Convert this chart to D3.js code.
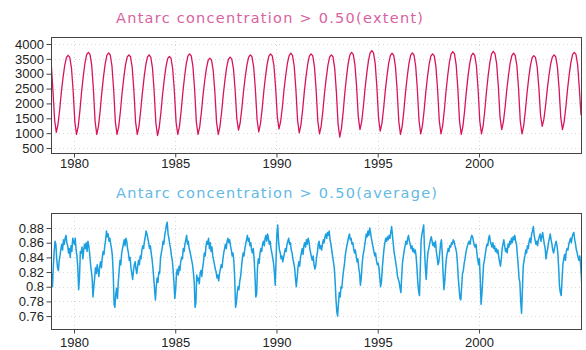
<!DOCTYPE html>
<html>
<head>
<meta charset="utf-8">
<script src="https://cdn.jsdelivr.net/npm/d3@7"></script>
<style>
  body { margin: 0; background: #fff; }
  .tick text { font-family: "Liberation Sans", Arial, sans-serif; font-size: 13px; fill: #222; }
  .tick line { stroke: #444; }
  .title { font-family: "DejaVu Sans", sans-serif; font-size: 14.5px; }
</style>
</head>
<body>
<svg id="chart" width="586" height="350"></svg>
<script>
// ---- data ----
const yearTicks = [1980, 1985, 1990, 1995, 2000];
const extentTicks = [500, 1000, 1500, 2000, 2500, 3000, 3500, 4000];
const averageTicks = [0.76, 0.78, 0.8, 0.82, 0.84, 0.86, 0.88];

// monthly values, first one is Nov 1978
const extentStart = 1978 + 10 / 12;
const extentMonthly = [
  3350, 2450,
  1450, 1030, 1290, 1780, 2380, 2870, 3280, 3540, 3620, 3550, 3190, 2420, // 1979
  1380, 955, 1230, 1760, 2390, 2920, 3360, 3640, 3720, 3650, 3280, 2480,  // 1980
  1400, 955, 1230, 1750, 2380, 2900, 3340, 3620, 3700, 3630, 3260, 2470,  // 1981
  1390, 955, 1220, 1730, 2350, 2860, 3290, 3560, 3635, 3570, 3210, 2430,  // 1982
  1380, 955, 1230, 1740, 2340, 2850, 3280, 3560, 3635, 3560, 3200, 2410,  // 1983
  1350, 920, 1190, 1690, 2300, 2810, 3230, 3510, 3580, 3520, 3160, 2400,  // 1984
  1370, 955, 1230, 1740, 2370, 2880, 3320, 3590, 3670, 3600, 3240, 2450,  // 1985
  1390, 955, 1210, 1700, 2290, 2780, 3190, 3450, 3525, 3460, 3110, 2370,  // 1986
  1370, 955, 1220, 1710, 2310, 2800, 3220, 3480, 3560, 3500, 3170, 2450,  // 1987
  1490, 1100, 1350, 1840, 2420, 2900, 3300, 3560, 3635, 3570, 3220, 2470, // 1988
  1460, 1045, 1310, 1810, 2410, 2910, 3330, 3590, 3670, 3600, 3270, 2530, // 1989
  1550, 1140, 1400, 1880, 2470, 2950, 3360, 3610, 3690, 3620, 3260, 2480, // 1990
  1440, 1010, 1280, 1780, 2390, 2900, 3320, 3590, 3670, 3600, 3240, 2460, // 1991
  1410, 975, 1240, 1750, 2360, 2860, 3290, 3560, 3635, 3570, 3190, 2390,  // 1992
  1310, 865, 1150, 1690, 2350, 2890, 3350, 3630, 3720, 3650, 3300, 2550,  // 1993
  1540, 1120, 1390, 1890, 2500, 3010, 3430, 3700, 3780, 3700, 3350, 2560, // 1994
  1500, 1065, 1330, 1830, 2430, 2930, 3350, 3610, 3690, 3620, 3250, 2460, // 1995
  1390, 955, 1230, 1750, 2380, 2900, 3340, 3620, 3700, 3630, 3260, 2470,  // 1996
  1410, 975, 1250, 1760, 2380, 2890, 3320, 3590, 3670, 3600, 3240, 2460,  // 1997
  1410, 975, 1250, 1780, 2420, 2940, 3390, 3660, 3745, 3670, 3300, 2490,  // 1998
  1400, 955, 1230, 1750, 2380, 2900, 3330, 3610, 3690, 3620, 3260, 2470,  // 1999
  1410, 975, 1250, 1780, 2420, 2950, 3390, 3670, 3755, 3680, 3330, 2570,  // 2000
  1540, 1120, 1380, 1870, 2460, 2940, 3360, 3610, 3690, 3620, 3260, 2470, // 2001
  1410, 975, 1240, 1740, 2350, 2850, 3270, 3530, 3610, 3550, 3230, 2540,  // 2002
  1610, 1230, 1470, 1930, 2480, 2940, 3320, 3560, 3635, 3570, 3230, 2500, // 2003
  1520, 1120, 1380, 1870, 2470, 2970, 3380, 3640, 3720, 3650, 3300, 2500, // 2004
  1600
];

// half-monthly values, first one is early Nov 1978
const averageStart = 1978 + 10 / 12;
const averageHalfMonthly = [
  0.835, 0.812, 0.800, 0.828,
  0.848, 0.862, 0.858, 0.838, 0.826, 0.822, 0.836, 0.843, 0.852, 0.858, 0.850, 0.864, 0.858, 0.866, 0.870, 0.860, 0.856, 0.846, 0.852, 0.840, 0.856, 0.848, 0.866, 0.862, // 1979
  0.858, 0.866, 0.850, 0.842, 0.826, 0.796, 0.812, 0.848, 0.846, 0.854, 0.838, 0.850, 0.858, 0.852, 0.860, 0.848, 0.862, 0.856, 0.846, 0.832, 0.822, 0.812, 0.786, 0.800, // 1980
  0.812, 0.826, 0.818, 0.830, 0.822, 0.814, 0.828, 0.834, 0.826, 0.840, 0.848, 0.844, 0.856, 0.864, 0.876, 0.868, 0.872, 0.862, 0.866, 0.858, 0.852, 0.842, 0.818, 0.776, // 1981
  0.772, 0.790, 0.798, 0.784, 0.806, 0.822, 0.836, 0.830, 0.846, 0.852, 0.858, 0.864, 0.856, 0.866, 0.862, 0.852, 0.846, 0.836, 0.840, 0.826, 0.818, 0.810, 0.822, 0.830, // 1982
  0.834, 0.824, 0.818, 0.828, 0.836, 0.830, 0.842, 0.838, 0.850, 0.856, 0.852, 0.862, 0.868, 0.876, 0.872, 0.866, 0.860, 0.852, 0.856, 0.846, 0.838, 0.826, 0.812, 0.796, // 1983
  0.782, 0.800, 0.812, 0.806, 0.820, 0.818, 0.838, 0.846, 0.852, 0.862, 0.858, 0.870, 0.876, 0.884, 0.888, 0.872, 0.866, 0.858, 0.852, 0.842, 0.836, 0.822, 0.806, 0.784, // 1984
  0.796, 0.818, 0.824, 0.816, 0.828, 0.822, 0.834, 0.840, 0.838, 0.852, 0.848, 0.858, 0.864, 0.870, 0.858, 0.862, 0.852, 0.848, 0.842, 0.836, 0.830, 0.820, 0.806, 0.772, // 1985
  0.778, 0.816, 0.808, 0.812, 0.804, 0.818, 0.822, 0.814, 0.826, 0.834, 0.846, 0.842, 0.856, 0.862, 0.858, 0.866, 0.852, 0.860, 0.848, 0.854, 0.842, 0.836, 0.830, 0.824, // 1986
  0.820, 0.812, 0.816, 0.808, 0.818, 0.824, 0.830, 0.826, 0.838, 0.846, 0.852, 0.858, 0.852, 0.862, 0.866, 0.860, 0.864, 0.856, 0.850, 0.842, 0.846, 0.834, 0.812, 0.772, // 1987
  0.778, 0.792, 0.800, 0.796, 0.808, 0.814, 0.826, 0.838, 0.846, 0.842, 0.852, 0.858, 0.864, 0.870, 0.862, 0.866, 0.856, 0.860, 0.850, 0.846, 0.852, 0.838, 0.816, 0.786, // 1988
  0.790, 0.826, 0.838, 0.832, 0.846, 0.852, 0.848, 0.858, 0.862, 0.856, 0.866, 0.870, 0.862, 0.872, 0.866, 0.858, 0.862, 0.852, 0.846, 0.840, 0.832, 0.820, 0.802, 0.836, // 1989
  0.872, 0.884, 0.862, 0.850, 0.846, 0.838, 0.842, 0.834, 0.840, 0.846, 0.852, 0.848, 0.858, 0.862, 0.866, 0.858, 0.860, 0.850, 0.846, 0.838, 0.832, 0.826, 0.812, 0.800, // 1990
  0.812, 0.826, 0.834, 0.828, 0.840, 0.846, 0.852, 0.844, 0.856, 0.860, 0.854, 0.864, 0.858, 0.866, 0.862, 0.852, 0.846, 0.840, 0.836, 0.842, 0.830, 0.824, 0.828, 0.840, // 1991
  0.846, 0.858, 0.862, 0.852, 0.856, 0.850, 0.858, 0.864, 0.860, 0.868, 0.872, 0.866, 0.874, 0.870, 0.876, 0.864, 0.858, 0.850, 0.842, 0.834, 0.826, 0.808, 0.784, 0.766, // 1992
  0.760, 0.778, 0.792, 0.786, 0.800, 0.798, 0.812, 0.822, 0.830, 0.842, 0.850, 0.856, 0.862, 0.868, 0.872, 0.864, 0.866, 0.858, 0.860, 0.852, 0.846, 0.850, 0.842, 0.834, // 1993
  0.838, 0.826, 0.818, 0.802, 0.812, 0.830, 0.842, 0.848, 0.856, 0.864, 0.872, 0.868, 0.876, 0.870, 0.880, 0.874, 0.866, 0.860, 0.854, 0.848, 0.842, 0.846, 0.836, 0.830, // 1994
  0.832, 0.826, 0.812, 0.800, 0.808, 0.826, 0.840, 0.852, 0.860, 0.866, 0.862, 0.868, 0.864, 0.870, 0.866, 0.874, 0.882, 0.870, 0.858, 0.846, 0.840, 0.832, 0.824, 0.814, // 1995
  0.810, 0.806, 0.798, 0.792, 0.816, 0.834, 0.842, 0.850, 0.856, 0.862, 0.858, 0.866, 0.870, 0.862, 0.858, 0.852, 0.856, 0.848, 0.852, 0.846, 0.850, 0.842, 0.826, 0.806, // 1996
  0.794, 0.788, 0.826, 0.864, 0.872, 0.878, 0.884, 0.850, 0.826, 0.810, 0.832, 0.846, 0.852, 0.858, 0.864, 0.868, 0.862, 0.856, 0.860, 0.854, 0.862, 0.848, 0.840, 0.830, // 1997
  0.834, 0.846, 0.858, 0.864, 0.846, 0.818, 0.796, 0.808, 0.826, 0.840, 0.846, 0.852, 0.848, 0.856, 0.854, 0.860, 0.858, 0.864, 0.862, 0.856, 0.852, 0.846, 0.832, 0.812, // 1998
  0.798, 0.784, 0.782, 0.800, 0.818, 0.822, 0.832, 0.838, 0.846, 0.852, 0.856, 0.860, 0.862, 0.858, 0.866, 0.870, 0.868, 0.862, 0.856, 0.854, 0.858, 0.846, 0.838, 0.830, // 1999
  0.838, 0.812, 0.776, 0.790, 0.810, 0.830, 0.836, 0.844, 0.852, 0.858, 0.856, 0.866, 0.870, 0.862, 0.858, 0.854, 0.860, 0.852, 0.856, 0.848, 0.852, 0.846, 0.850, 0.840, // 2000
  0.834, 0.828, 0.838, 0.852, 0.858, 0.864, 0.856, 0.848, 0.852, 0.846, 0.858, 0.854, 0.862, 0.858, 0.866, 0.860, 0.868, 0.864, 0.870, 0.862, 0.858, 0.844, 0.830, 0.812, // 2001
  0.806, 0.780, 0.764, 0.796, 0.828, 0.836, 0.842, 0.850, 0.846, 0.856, 0.852, 0.862, 0.866, 0.860, 0.872, 0.876, 0.882, 0.870, 0.864, 0.858, 0.862, 0.856, 0.864, 0.868, // 2002
  0.872, 0.862, 0.868, 0.874, 0.866, 0.858, 0.852, 0.838, 0.846, 0.852, 0.860, 0.866, 0.872, 0.864, 0.858, 0.850, 0.846, 0.852, 0.858, 0.862, 0.856, 0.846, 0.826, 0.800, // 2003
  0.792, 0.788, 0.810, 0.830, 0.838, 0.844, 0.836, 0.848, 0.852, 0.850, 0.858, 0.862, 0.866, 0.860, 0.868, 0.872, 0.874, 0.864, 0.858, 0.850, 0.846, 0.840, 0.836, 0.842, // 2004
  0.830, 0.812, 0.790
];

// ---- layout ----
const left = 51, right = 582;

const svg = d3.select("#chart");

const x = d3.scaleLinear()
  .domain([1978.864, 2005.09])
  .range([left, right]);

function drawPanel(p) {
  var y = d3.scaleLinear().domain(p.yDomain).range([p.bottom, p.top]);
  var g = svg.append("g");

  g.append("clipPath").attr("id", p.id + "-clip")
    .append("rect")
    .attr("x", left).attr("y", p.top)
    .attr("width", right - left).attr("height", p.bottom - p.top);

  // dotted grid
  g.selectAll(".hgrid").data(p.yTicks).enter().append("line")
    .attr("x1", left).attr("x2", right)
    .attr("y1", d => Math.round(y(d)) + 0.5).attr("y2", d => Math.round(y(d)) + 0.5)
    .attr("stroke", "#dadada").attr("stroke-dasharray", "1,3");
  g.selectAll(".vgrid").data(yearTicks).enter().append("line")
    .attr("y1", p.top).attr("y2", p.bottom)
    .attr("x1", d => Math.round(x(d)) + 0.5).attr("x2", d => Math.round(x(d)) + 0.5)
    .attr("stroke", "#dadada").attr("stroke-dasharray", "1,3");

  var line = d3.line()
    .x(d => x(d[0]))
    .y(d => y(d[1]));

  var pts = p.values.map((v, i) => [p.start + (i + 0.5) * p.step, v]);

  g.append("path")
    .datum(pts)
    .attr("clip-path", "url(#" + p.id + "-clip)")
    .attr("fill", "none")
    .attr("stroke", p.color)
    .attr("stroke-width", p.width)
    .attr("stroke-linejoin", "round")
    .attr("d", line);

  // frame
  g.append("rect")
    .attr("x", left + 0.5).attr("y", p.top + 0.5)
    .attr("width", right - left - 1).attr("height", p.bottom - p.top - 1)
    .attr("fill", "none").attr("stroke", "#444");

  g.append("g")
    .attr("transform", "translate(" + (left + 0.5) + ",0)")
    .call(d3.axisLeft(y).tickValues(p.yTicks).tickSize(5).tickPadding(2.5).tickFormat(d3.format("~g")))
    .call(a => a.select(".domain").remove());

  g.append("g")
    .attr("transform", "translate(0," + (p.bottom - 0.5) + ")")
    .call(d3.axisBottom(x).tickValues(yearTicks).tickSize(4).tickPadding(p.xPad).tickFormat(d3.format("d")))
    .call(a => a.select(".domain").remove());

  g.append("text")
    .attr("class", "title")
    .attr("x", p.titleX).attr("y", p.titleY)
    .attr("textLength", p.titleLen).attr("lengthAdjust", "spacing")
    .attr("fill", p.titleColor)
    .text(p.title);
}

drawPanel({
  id: "extent",
  top: 37, bottom: 154,
  yDomain: [298, 4236],
  yTicks: extentTicks,
  values: extentMonthly, start: extentStart, step: 1 / 12,
  color: "#d8145e", width: 1.3,
  xPad: 1.5,
  title: "Antarc  concentration  >  0.50(extent)",
  titleX: 116, titleY: 22.5, titleLen: 307, titleColor: "#d8629f"
});

drawPanel({
  id: "average",
  top: 213, bottom: 330,
  yDomain: [0.741, 0.9005],
  yTicks: averageTicks,
  values: averageHalfMonthly, start: averageStart, step: 1 / 24,
  color: "#1a9fe0", width: 1.5,
  xPad: 4.5,
  title: "Antarc  concentration  >  0.50(average)",
  titleX: 116, titleY: 197.5, titleLen: 321, titleColor: "#62b9e4"
});
</script>
</body>
</html>
